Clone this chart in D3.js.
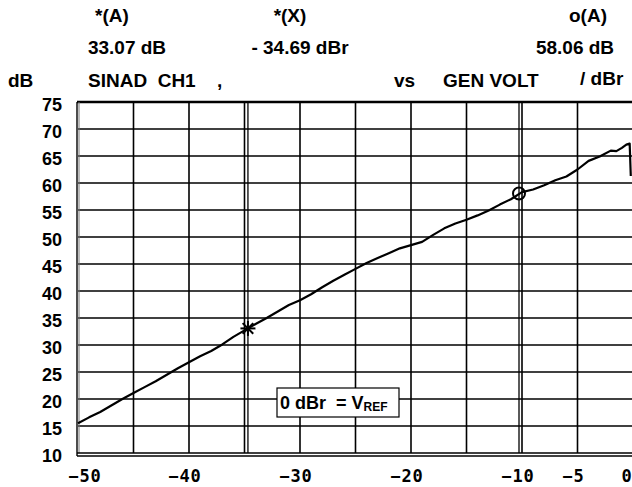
<!DOCTYPE html>
<html>
<head>
<meta charset="utf-8">
<script src="https://cdn.jsdelivr.net/npm/d3@7"></script>
<style>
  body { margin: 0; background: #fff; }
  svg { display: block; }
</style>
</head>
<body>
<script>
// sweep: generator voltage (dBr) vs SINAD (dB)
const genVolt = [-50, -49, -48, -47, -46, -45, -44, -43, -42, -41, -40, -39, -38, -37, -36, -35,
  -34, -33, -32, -31, -30, -29, -28, -27, -26, -25, -24, -23, -22, -21, -20, -19, -18, -17,
  -16, -15, -14, -13, -12, -11, -10, -9, -8, -7, -6, -5, -4, -3, -2, -1.5, -1, -0.6, -0.3, -0.2];
const sinad = [15.5, 16.6, 17.6, 18.8, 20.0, 21.1, 22.2, 23.3, 24.5, 25.7, 26.8, 27.9, 28.9, 30.1,
  31.5, 32.7, 33.9, 35.0, 36.2, 37.4, 38.3, 39.4, 40.7, 41.9, 43.0, 44.1, 45.2, 46.1, 47.0, 47.9,
  48.5, 49.1, 50.4, 51.6, 52.5, 53.2, 54.0, 54.9, 56.0, 57.0, 58.3, 58.8, 59.6, 60.5, 61.2, 62.5,
  64.1, 64.9, 66.0, 65.9, 66.5, 67.1, 67.3, 61.3];

const yTicks = [75, 70, 65, 60, 55, 50, 45, 40, 35, 30, 25, 20, 15, 10];
const xLabels = [-50, -40, -30, -20, -10, -5, 0];
const xGrid = [-50, -45, -40, -35, -30, -25, -20, -15, -10, -5, 0];

const cursorStar = { x: -34.69, y: 33.07 };
const cursorCircle = { x: -10.27, y: 58.06 };

const width = 632, height = 487;
const plot = { left: 78, right: 633, top: 102, bottom: 453 };

const x = d3.scaleLinear().domain([-50, 0]).range([plot.left, plot.right]);
const y = d3.scaleLinear().domain([10, 75]).range([plot.bottom, plot.top]);

const svg = d3.select("body").append("svg")
    .attr("width", width)
    .attr("height", height)
    .attr("viewBox", [0, 0, width, height]);

const sans = "'Liberation Sans', Arial, sans-serif";
const mono = "'DejaVu Sans Mono', monospace";

// header rows
const header = svg.append("g")
    .attr("font-family", sans)
    .attr("font-weight", "bold")
    .attr("font-size", 19)
    .attr("fill", "#000");

const headerTexts = [
  { t: "*(A)", x: 112, y: 22, a: "middle" },
  { t: "33.07 dB", x: 127, y: 54, a: "middle" },
  { t: "*(X)", x: 290, y: 22, a: "middle" },
  { t: "- 34.69 dBr", x: 300, y: 54, a: "middle" },
  { t: "o(A)", x: 588, y: 22, a: "middle" },
  { t: "58.06 dB", x: 575, y: 54, a: "middle" },
  { t: "dB", x: 8, y: 87, a: "start" },
  { t: "SINAD\u00a0\u00a0CH1", x: 88, y: 87, a: "start" },
  { t: ",", x: 217, y: 87, a: "start" },
  { t: "vs", x: 394, y: 87, a: "start" },
  { t: "GEN VOLT", x: 443, y: 87, a: "start" },
  { t: "/ dBr", x: 580, y: 85, a: "start" }
];

header.selectAll("text")
  .data(headerTexts)
  .join("text")
    .attr("x", d => d.x)
    .attr("y", d => d.y)
    .attr("text-anchor", d => d.a)
    .text(d => d.t);

// grid
const grid = svg.append("g")
    .attr("stroke", "#000")
    .attr("stroke-width", 1.6);

grid.selectAll("line.h")
  .data(yTicks.filter(v => v !== 75 && v !== 10))
  .join("line")
    .attr("class", "h")
    .attr("x1", plot.left)
    .attr("x2", plot.right)
    .attr("y1", d => y(d))
    .attr("y2", d => y(d));

grid.selectAll("line.v")
  .data(xGrid.filter(v => v !== -50 && v !== 0))
  .join("line")
    .attr("class", "v")
    .attr("x1", d => x(d))
    .attr("x2", d => x(d))
    .attr("y1", plot.top)
    .attr("y2", plot.bottom);

// frame: heavy top, doubled left and bottom
const frame = svg.append("g").attr("stroke", "#000").attr("fill", "none");
frame.append("line")
    .attr("x1", plot.left - 1).attr("x2", plot.right)
    .attr("y1", y(75)).attr("y2", y(75))
    .attr("stroke-width", 2.4);
frame.append("line")
    .attr("x1", x(-50) - 1).attr("x2", x(-50) - 1)
    .attr("y1", plot.top).attr("y2", plot.bottom + 3)
    .attr("stroke-width", 1.4);
frame.append("line")
    .attr("x1", x(-50) + 1).attr("x2", x(-50) + 1)
    .attr("y1", plot.top).attr("y2", plot.bottom)
    .attr("stroke", "#777")
    .attr("stroke-width", 1);
frame.append("line")
    .attr("x1", plot.left - 1).attr("x2", plot.right)
    .attr("y1", y(10)).attr("y2", y(10))
    .attr("stroke-width", 1.4);
frame.append("line")
    .attr("x1", plot.left - 1).attr("x2", plot.right)
    .attr("y1", y(10) + 3).attr("y2", y(10) + 3)
    .attr("stroke-width", 1.4);

// cursor lines
svg.append("g")
    .attr("stroke", "#000")
    .attr("stroke-width", 1.3)
  .selectAll("line")
  .data([cursorStar, cursorCircle])
  .join("line")
    .attr("x1", d => x(d.x))
    .attr("x2", d => x(d.x))
    .attr("y1", plot.top)
    .attr("y2", plot.bottom);

// y tick labels
svg.append("g")
    .attr("font-family", sans)
    .attr("font-weight", "bold")
    .attr("font-size", 18)
    .attr("text-anchor", "end")
  .selectAll("text")
  .data(yTicks)
  .join("text")
    .attr("x", 62)
    .attr("y", d => y(d) + 8.5)
    .text(d => d);

// x tick labels
svg.append("g")
    .attr("font-family", mono)
    .attr("font-weight", "bold")
    .attr("font-size", 17)
    .attr("letter-spacing", 1)
    .attr("text-anchor", "middle")
  .selectAll("text")
  .data(xLabels)
  .join("text")
    .attr("x", d => d === -50 ? 85 : d === 0 ? 627 : x(d) - 4)
    .attr("y", 482)
    .text(d => d === 0 ? "0" : "\u2212" + Math.abs(d));

// curve
const pts = genVolt.map((g, i) => [g, sinad[i]]);
svg.append("path")
    .datum(pts)
    .attr("fill", "none")
    .attr("stroke", "#000")
    .attr("stroke-width", 2.2)
    .attr("stroke-linejoin", "round")
    .attr("d", d3.line().x(d => x(d[0])).y(d => y(d[1])));

// star marker
const sx = x(cursorStar.x), sy = y(cursorStar.y);
svg.append("g")
    .attr("stroke", "#000")
    .attr("stroke-width", 2)
  .selectAll("line")
  .data([0, 45, 90, 135])
  .join("line")
    .attr("x1", a => sx - 7.5 * Math.cos(a * Math.PI / 180))
    .attr("y1", a => sy - 7.5 * Math.sin(a * Math.PI / 180))
    .attr("x2", a => sx + 7.5 * Math.cos(a * Math.PI / 180))
    .attr("y2", a => sy + 7.5 * Math.sin(a * Math.PI / 180));

// circle marker
svg.append("circle")
    .attr("cx", x(cursorCircle.x))
    .attr("cy", y(cursorCircle.y))
    .attr("r", 6)
    .attr("fill", "none")
    .attr("stroke", "#000")
    .attr("stroke-width", 2);

// reference note box
const note = svg.append("g");
note.append("rect")
    .attr("x", 277).attr("y", 388)
    .attr("width", 122).attr("height", 29)
    .attr("fill", "#fff")
    .attr("stroke", "#000")
    .attr("stroke-width", 1.2);
const noteText = note.append("text")
    .attr("x", 280).attr("y", 409)
    .attr("font-family", sans)
    .attr("font-weight", "bold")
    .attr("font-size", 18);
noteText.append("tspan").text("0 dBr\u00a0\u00a0= V");
noteText.append("tspan").attr("font-size", 12).attr("dy", 2).text("REF");
</script>
</body>
</html>
